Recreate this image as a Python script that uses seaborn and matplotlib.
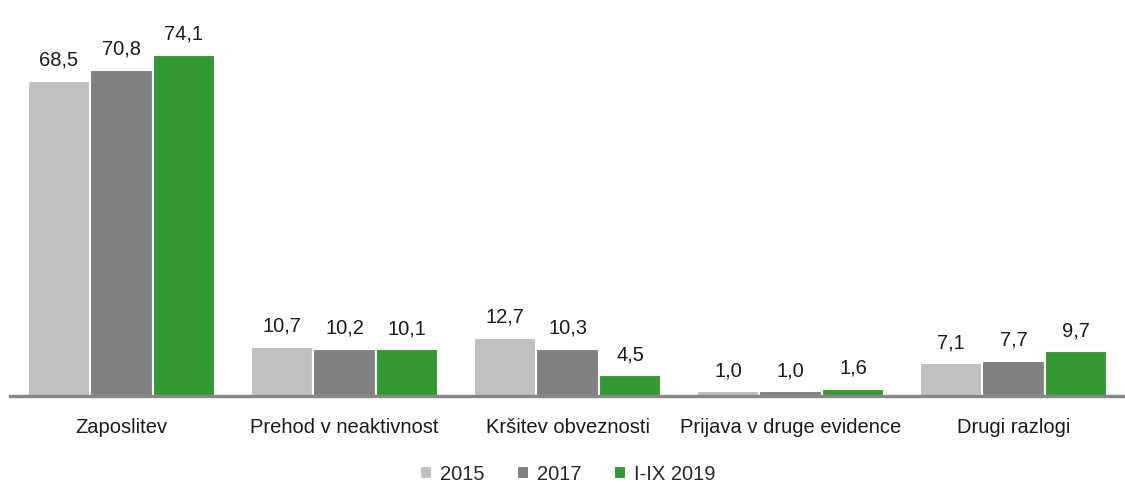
import pandas as pd
import seaborn as sns
import matplotlib.pyplot as plt

categories = ["Zaposlitev", "Prehod v neaktivnost", "Kršitev obveznosti",
              "Prijava v druge evidence", "Drugi razlogi"]
series = ["2015", "2017", "I-IX 2019"]
values_2015 = [68.5, 10.7, 12.7, 1.0, 7.1]
values_2017 = [70.8, 10.2, 10.3, 1.0, 7.7]
values_2019 = [74.1, 10.1, 4.5, 1.6, 9.7]
colors = ["#BFBFBF", "#808080", "#339933"]

rows = []
for name, vals in zip(series, [values_2015, values_2017, values_2019]):
    for cat, v in zip(categories, vals):
        rows.append({"razlog": cat, "leto": name, "delez": v})
df = pd.DataFrame(rows)

sns.set_style("white")
plt.rcParams["font.family"] = ["Liberation Sans", "DejaVu Sans"]

fig = plt.figure(figsize=(11.25, 4.84), dpi=100)
ax = fig.add_axes([10 / 1125, 88 / 484, 1 - 10 / 1125, 1 - 88 / 484])

sns.barplot(data=df, x="razlog", y="delez", hue="leto", palette=colors,
            width=0.84, edgecolor="white", linewidth=1.5, saturation=1,
            ax=ax, legend=True)

for cont in ax.containers:
    ax.bar_label(cont, labels=[f"{v:.1f}".replace(".", ",") for v in cont.datavalues],
                 padding=8, fontsize=14.5, color="#1a1a1a")

ax.set_xlim(-0.5, 4.5)
ax.set_ylim(0, 86)
ax.set_xlabel("")
ax.set_ylabel("")
ax.set_yticks([])
ax.tick_params(axis="x", length=0, pad=16, labelsize=14.5, labelcolor="#1a1a1a")
for s in ["top", "right", "left"]:
    ax.spines[s].set_visible(False)
ax.spines["bottom"].set_color("#878787")
ax.spines["bottom"].set_linewidth(2.4)

ax.legend(loc="center", bbox_to_anchor=(0.5, -0.197), ncol=3, frameon=False,
          fontsize=14.5, handlelength=0.6, handleheight=0.6, handletextpad=0.4,
          columnspacing=1.6, borderaxespad=0)

fig.savefig("out.png", dpi=100)
